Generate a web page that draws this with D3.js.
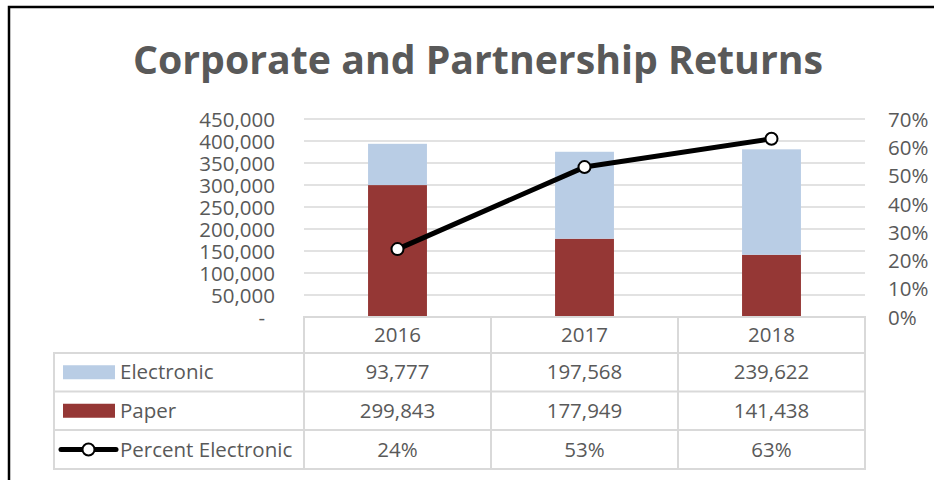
<!DOCTYPE html>
<html>
<head>
<meta charset="utf-8">
<script src="https://cdn.jsdelivr.net/npm/d3@7"></script>
<style>
  html, body { margin: 0; padding: 0; background: #fff; }
  svg { display: block; }
  text { font-family: "Open Sans", "Liberation Sans", sans-serif; fill: #595959; }
</style>
</head>
<body>
<svg id="chart" width="934" height="480"></svg>
<script>
const title = "Corporate and Partnership Returns";
const years = ["2016", "2017", "2018"];
const electronic = [93777, 197568, 239622];
const paper = [299843, 177949, 141438];
const percentElectronic = [0.24, 0.53, 0.63];
const leftTicks = [0, 50000, 100000, 150000, 200000, 250000, 300000, 350000, 400000, 450000];
const rightTicks = [0, 0.1, 0.2, 0.3, 0.4, 0.5, 0.6, 0.7];
const seriesNames = ["Electronic", "Paper", "Percent Electronic"];
const colors = { electronic: "#b9cde5", paper: "#953735", line: "#000000" };

const svg = d3.select("#chart");
const W = 934, H = 480;
const plot = { left: 304, right: 865, top: 119, bottom: 317 };
const fs = "20.5px";

// outer border (left + top visible)
svg.append("path")
  .attr("d", `M9,${H} L9,7 L${W},7`)
  .attr("fill", "none").attr("stroke", "#000").attr("stroke-width", 2.5);

// title
const t = svg.append("text")
  .attr("x", 478).attr("y", 74)
  .attr("text-anchor", "middle")
  .style("font-size", "40px").style("font-weight", "bold")
  .text(title);
const tl = t.node().getComputedTextLength();
if (Math.abs(tl - 690) > 4) t.attr("textLength", 690).attr("lengthAdjust", "spacingAndGlyphs");

const x = d3.scaleBand().domain(years).range([plot.left, plot.right]).paddingInner(0).paddingOuter(0);
const y = d3.scaleLinear().domain([0, 450000]).range([plot.bottom, plot.top]);
const y2 = d3.scaleLinear().domain([0, 0.7]).range([plot.bottom, plot.top]);

// gridlines
svg.append("g").selectAll("line").data(leftTicks.slice(1)).join("line")
  .attr("x1", plot.left).attr("x2", plot.right)
  .attr("y1", d => y(d)).attr("y2", d => y(d))
  .attr("stroke", "#d9d9d9").attr("stroke-width", 1.5);

// left axis
const fmt = d3.format(",");
const leftAxis = d3.axisLeft(y).tickValues(leftTicks).tickSize(0).tickPadding(0)
  .tickFormat(d => d === 0 ? "-" : fmt(d));
const gl = svg.append("g").attr("transform", "translate(275,0)").call(leftAxis);
gl.select(".domain").remove();
gl.selectAll("text").style("font-size", fs).attr("fill", "#595959").attr("font-family", null)
  .attr("dy", "0.35em")
  .attr("x", d => d === 0 ? -10 : 0);

// right axis
const rightAxis = d3.axisRight(y2).tickValues(rightTicks).tickSize(0).tickPadding(0)
  .tickFormat(d3.format(".0%"));
const gr = svg.append("g").attr("transform", "translate(888,0)").call(rightAxis);
gr.select(".domain").remove();
gr.selectAll("text").style("font-size", fs).attr("fill", "#595959").attr("font-family", null)
  .attr("dy", "0.35em");

// stacked bars
const data = years.map((yr, i) => ({ year: yr, paper: paper[i], electronic: electronic[i] }));
const stack = d3.stack().keys(["paper", "electronic"])(data);
const barW = x.bandwidth() * 0.315;
svg.append("g").selectAll("g").data(stack).join("g")
  .attr("fill", d => colors[d.key])
  .selectAll("rect").data(d => d).join("rect")
  .attr("x", d => x(d.data.year) + x.bandwidth() / 2 - barW / 2)
  .attr("width", barW)
  .attr("y", d => y(d[1]))
  .attr("height", d => y(d[0]) - y(d[1]));

// line
const pts = years.map((yr, i) => [x(yr) + x.bandwidth() / 2, y2(percentElectronic[i])]);
svg.append("path").attr("d", d3.line()(pts))
  .attr("fill", "none").attr("stroke", colors.line).attr("stroke-width", 5)
  .attr("stroke-linejoin", "round");
svg.append("g").selectAll("circle").data(pts).join("circle")
  .attr("cx", d => d[0]).attr("cy", d => d[1]).attr("r", 6)
  .attr("fill", "#fff").attr("stroke", "#000").attr("stroke-width", 2);

// data table
const tableLeft = 54;
const rowTops = [317, 353, 391.5, 430, 469];
const border = svg.append("g").attr("stroke", "#d9d9d9").attr("stroke-width", 2).attr("fill", "none");
border.append("rect").attr("x", plot.left).attr("y", rowTops[0]).attr("width", plot.right - plot.left).attr("height", rowTops[1] - rowTops[0]);
border.append("rect").attr("x", tableLeft).attr("y", rowTops[1]).attr("width", plot.right - tableLeft).attr("height", rowTops[4] - rowTops[1]);
[2, 3].forEach(i => border.append("line").attr("x1", tableLeft).attr("x2", plot.right).attr("y1", rowTops[i]).attr("y2", rowTops[i]));
years.forEach(yr => border.append("line").attr("x1", x(yr)).attr("x2", x(yr)).attr("y1", rowTops[0]).attr("y2", rowTops[4]));
border.append("line").attr("x1", plot.right).attr("x2", plot.right).attr("y1", rowTops[0]).attr("y2", rowTops[4]);

const midY = i => (rowTops[i] + rowTops[i + 1]) / 2;
const cellStyle = sel => sel.attr("text-anchor", "middle").attr("dy", "0.35em").style("font-size", fs);

svg.append("g").selectAll("text").data(years).join("text")
  .attr("x", d => x(d) + x.bandwidth() / 2).attr("y", midY(0)).call(cellStyle).text(d => d);

const rows = [
  electronic.map(v => fmt(v)),
  paper.map(v => fmt(v)),
  percentElectronic.map(v => d3.format(".0%")(v))
];
rows.forEach((r, ri) => {
  svg.append("g").selectAll("text").data(r).join("text")
    .attr("x", (d, i) => x(years[i]) + x.bandwidth() / 2).attr("y", midY(ri + 1))
    .call(cellStyle).text(d => d);
});

// legend keys in table
const lg = svg.append("g");
lg.append("rect").attr("x", 63).attr("y", midY(1) - 7).attr("width", 52).attr("height", 14).attr("fill", colors.electronic);
lg.append("rect").attr("x", 63).attr("y", midY(2) - 7).attr("width", 52).attr("height", 14).attr("fill", colors.paper);
lg.append("line").attr("x1", 61).attr("x2", 116).attr("y1", midY(3)).attr("y2", midY(3))
  .attr("stroke", "#000").attr("stroke-width", 5).attr("stroke-linecap", "round");
lg.append("circle").attr("cx", 88.5).attr("cy", midY(3)).attr("r", 6).attr("fill", "#fff").attr("stroke", "#000").attr("stroke-width", 2);
seriesNames.forEach((n, i) => {
  lg.append("text").attr("x", 120).attr("y", midY(i + 1)).attr("dy", "0.35em").style("font-size", fs).text(n);
});
</script>
</body>
</html>
